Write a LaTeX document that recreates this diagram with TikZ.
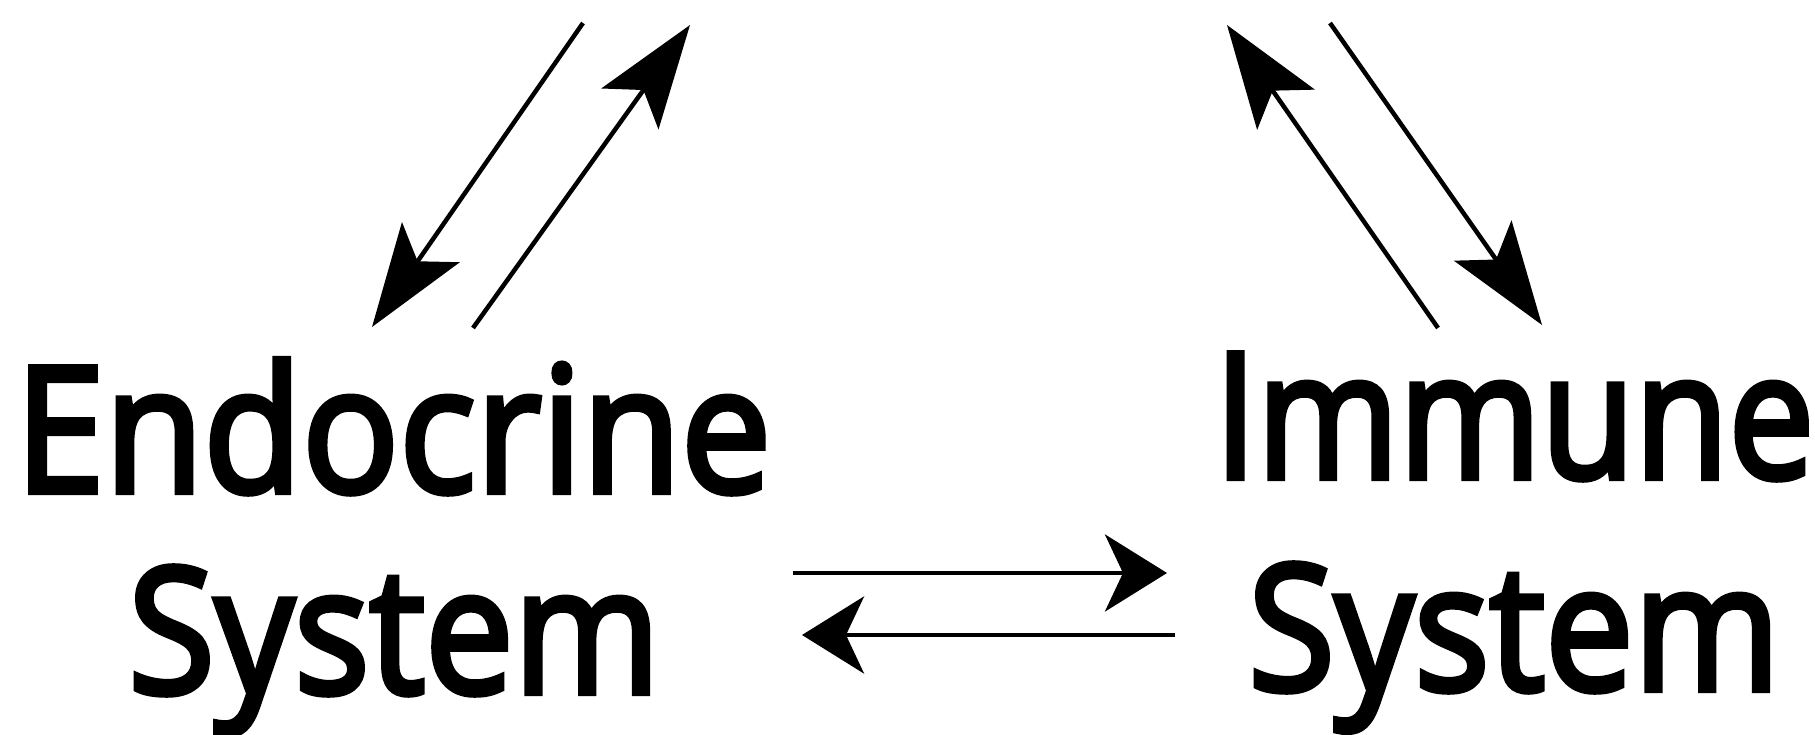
\documentclass[tikz,border=0pt]{standalone}
\usepackage{fontspec}
\setmainfont{Open Sans}
\newfontfamily\heavyface{Open Sans}[FakeBold=3.5]
\usetikzlibrary{arrows.meta}
\tikzset{
  sysname/.style={inner sep=0pt, anchor=base west, font=\fontsize{175}{175}\heavyface},
  flow/.style={line width=4.5pt, black},
  diagflow/.style={flow, -{Stealth[length=103pt, width=70pt, inset=23pt]}},
  sideflow/.style={flow, -{Stealth[length=62pt, width=77pt, inset=18pt]}},
}
% set a word to a given width, keeping its height
\newcommand{\wordat}[2]{\resizebox{#1}{\height}{#2}}
\begin{document}
\begin{tikzpicture}[x=1pt, y=-1pt]
  \useasboundingbox (0,0) rectangle (1815,735);

  % system names
  \node[sysname] (endoA) at (15,492)   {\wordat{756pt}{Endocrine}};
  \node[sysname] (endoB) at (128,693)  {\wordat{532pt}{System}};
  \node[sysname] (immA)  at (1214,478) {\wordat{600pt}{Immune}};
  \node[sysname] (immB)  at (1248,690) {\wordat{532pt}{System}};

  % end points of the connectors
  \coordinate (lA) at (583,23);   \coordinate (lB) at (372,327);
  \coordinate (lC) at (473,328);  \coordinate (lD) at (690,25);
  \coordinate (rA) at (1438,328); \coordinate (rB) at (1227,25);
  \coordinate (rC) at (1330,23);  \coordinate (rD) at (1542,325);
  \coordinate (hA) at (793,573);  \coordinate (hB) at (1167,573);
  \coordinate (hC) at (1175,635); \coordinate (hD) at (802,635);

  % connectors
  \draw[diagflow] (lA) -- (lB);
  \draw[diagflow] (lC) -- (lD);
  \draw[diagflow] (rA) -- (rB);
  \draw[diagflow] (rC) -- (rD);
  \draw[sideflow] (hA) -- (hB);
  \draw[sideflow] (hC) -- (hD);
\end{tikzpicture}
\end{document}
